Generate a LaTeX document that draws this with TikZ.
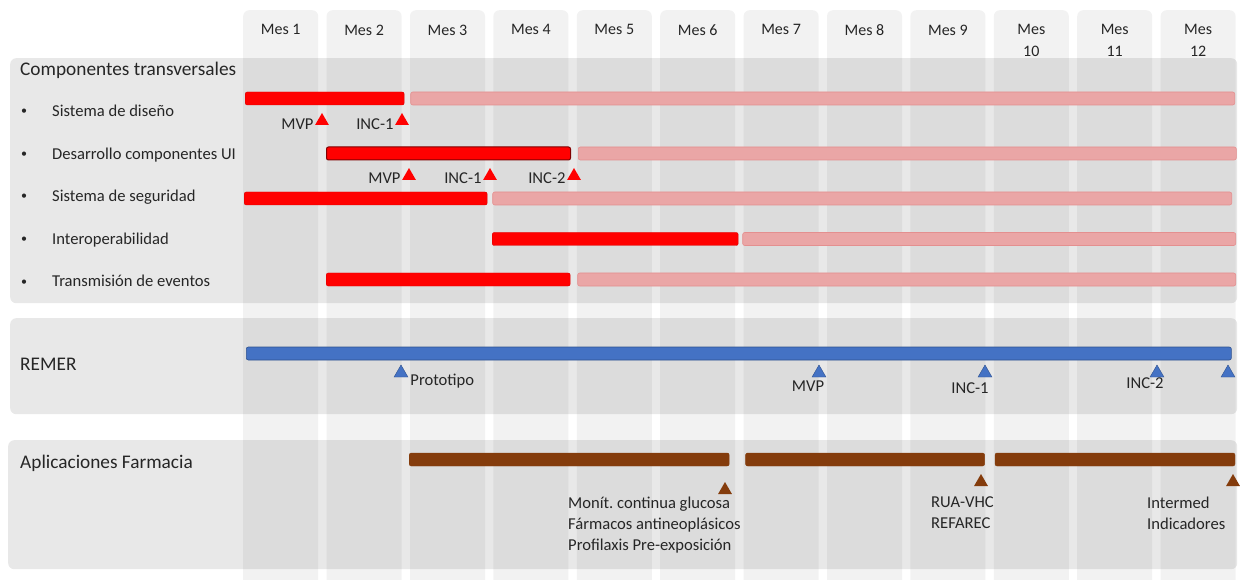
\documentclass[tikz,border=0pt]{standalone}
\usepackage{fontspec}
\setmainfont{Carlito}
\usetikzlibrary{shapes.geometric, positioning, calc}
\definecolor{txtgray}{HTML}{262626}
\definecolor{colgray}{HTML}{F2F2F2}
\definecolor{pinkfill}{HTML}{EAA6A6}
\definecolor{pinkline}{HTML}{E48F8F}
\definecolor{remerblue}{HTML}{4472C4}
\definecolor{remerline}{HTML}{2F528F}
\definecolor{farmbrown}{HTML}{843C0C}
\frenchspacing
\tikzset{
    mescol/.style   = {rectangle, rounded corners=6pt, minimum width=75pt, minimum height=600pt, anchor=north west, fill=colgray},
    mes/.style      = {inner sep=0pt, align=center, font=\fontsize{16}{22}\selectfont, text=txtgray},
    panel/.style    = {rectangle, rounded corners=6pt, anchor=north west, fill=black, fill opacity=0.09},
    head/.style     = {anchor=base west, inner sep=0pt, font=\fontsize{19.3}{22}\selectfont, text=txtgray},
    item/.style     = {anchor=base west, inner sep=0pt, font=\fontsize{16.6}{20}\selectfont, text=txtgray},
    dot/.style      = {anchor=base west, inner sep=0pt, font=\fontsize{12}{14}\selectfont, text=txtgray},
    ms/.style       = {inner sep=0pt, font=\fontsize{16.6}{20}\selectfont, text=txtgray},
    note/.style     = {anchor=north west, inner sep=0pt, align=left, font=\fontsize{16.6}{21}\selectfont, text=txtgray},
    bar/.style      = {rectangle, rounded corners=2pt, minimum height=13pt, inner sep=0pt, anchor=west},
    redbar/.style   = {bar, fill=red, draw=red!85!black, line width=0.4pt},
    darkbar/.style  = {bar, fill=red, draw=red!50!black, line width=1pt},
    pinkbar/.style  = {bar, fill=pinkfill, draw=pinkline, line width=0.6pt},
    bluebar/.style  = {bar, fill=remerblue, draw=remerline, line width=0.6pt},
    brownbar/.style = {bar, fill=farmbrown, draw=farmbrown, line width=0.4pt},
    tri/.style      = {regular polygon, regular polygon sides=3, minimum size=16pt, inner sep=0pt},
    redtri/.style   = {tri, fill=red},
    bluetri/.style  = {tri, fill=remerblue, draw=remerline, line width=0.4pt},
    browntri/.style = {tri, fill=farmbrown},
}

\begin{document}
\begin{tikzpicture}[x=1pt, y=-1pt]
  \useasboundingbox (0,0) rectangle (1240,580);
  \clip (0,0) rectangle (1240,580);
  % month columns
  \node[mescol] (c1) at (243,10) {};
  \node[mescol] (c2) at (326.4,10) {};
  \node[mescol] (c3) at (409.8,10) {};
  \node[mescol] (c4) at (493.2,10) {};
  \node[mescol] (c5) at (576.6,10) {};
  \node[mescol] (c6) at (660,10) {};
  \node[mescol] (c7) at (743.4,10) {};
  \node[mescol] (c8) at (826.8,10) {};
  \node[mescol] (c9) at (910.2,10) {};
  \node[mescol] (c10) at (993.6,10) {};
  \node[mescol] (c11) at (1077,10) {};
  \node[mescol] (c12) at (1160.4,10) {};
  \node[mes, below=14.5pt of c1.north] (mes1) {Mes 1};
  \node[mes, below=14.5pt of c2.north] (mes2) {Mes 2};
  \node[mes, below=14.5pt of c3.north] (mes3) {Mes 3};
  \node[mes, below=14.5pt of c4.north] (mes4) {Mes 4};
  \node[mes, below=14.5pt of c5.north] (mes5) {Mes 5};
  \node[mes, below=14.5pt of c6.north] (mes6) {Mes 6};
  \node[mes, below=14.5pt of c7.north] (mes7) {Mes 7};
  \node[mes, below=14.5pt of c8.north] (mes8) {Mes 8};
  \node[mes, below=14.5pt of c9.north] (mes9) {Mes 9};
  \node[mes, below=14.5pt of c10.north] (mes10) {Mes\\10};
  \node[mes, below=14.5pt of c11.north] (mes11) {Mes\\11};
  \node[mes, below=14.5pt of c12.north] (mes12) {Mes\\12};

  % panels
  \node[panel, minimum width=1227pt, minimum height=245pt] (comp) at (10,58) {};
  \node[panel, minimum width=1227pt, minimum height=96pt] (remer) at (10,318) {};
  \node[panel, minimum width=1229pt, minimum height=129pt] (farm) at (8,440) {};
  \node[head] (hcomp) at (20,76) {Componentes transversales};
  \node[head] (hremer) at (20,370) {REMER};
  \node[head] (hfarm) at (20,468) {Aplicaciones Farmacia};

  % componentes transversales
  \node[dot] (b1) at (21,115) {•};
  \node[item] (i1) at (52,117) {Sistema de diseño};
  \node[dot] (b2) at (21,158) {•};
  \node[item] (i2) at (52,160) {Desarrollo componentes UI};
  \node[dot] (b3) at (21,200) {•};
  \node[item] (i3) at (52,202) {Sistema de seguridad};
  \node[dot] (b4) at (21,243) {•};
  \node[item] (i4) at (52,245) {Interoperabilidad};
  \node[dot] (b5) at (21,285) {•};
  \node[item] (i5) at (52,287) {Transmisión de eventos};

  \node[redbar, minimum width=159pt] (r1a) at (245,98.5) {};
  \node[pinkbar, minimum width=824pt, right=6pt of r1a] (r1b) {};
  \node[darkbar, minimum width=244pt] (r2a) at (326,153.5) {};
  \node[pinkbar, minimum width=658pt, right=7pt of r2a] (r2b) {};
  \node[redbar, minimum width=243pt] (r3a) at (244,198.5) {};
  \node[pinkbar, minimum width=739pt, right=5pt of r3a] (r3b) {};
  \node[redbar, minimum width=246pt] (r4a) at (492,239) {};
  \node[pinkbar, minimum width=493pt, right=4pt of r4a] (r4b) {};
  \node[redbar, minimum width=244pt] (r5a) at (326,279.5) {};
  \node[pinkbar, minimum width=658pt, right=7pt of r5a] (r5b) {};

  \node[redtri] (t11) at (322,121) {};
  \node[ms, anchor=base east] (m11) at ($(t11.corner 2)+(-1,4.5)$) {MVP};
  \node[redtri] (t12) at (402,121) {};
  \node[ms, anchor=base east] (m12) at ($(t12.corner 2)+(-1,4.5)$) {INC-1};
  \node[redtri] (t21) at (409,176) {};
  \node[ms, anchor=base east] (m21) at ($(t21.corner 2)+(-1,3)$) {MVP};
  \node[redtri] (t22) at (490,176) {};
  \node[ms, anchor=base east] (m22) at ($(t22.corner 2)+(-1,3)$) {INC-1};
  \node[redtri] (t23) at (574,176) {};
  \node[ms, anchor=base east] (m23) at ($(t23.corner 2)+(-1,3)$) {INC-2};

  % REMER
  \node[bluebar, minimum width=985pt] (rb) at (246,353.5) {};
  \node[bluetri] (tb1) at (401,373) {};
  \node[ms, anchor=base west] (p1) at ($(tb1.corner 3)+(2,8.5)$) {Prototipo};
  \node[bluetri] (tb2) at (819,373) {};
  \node[ms, anchor=base] (p2) at ($(tb2.south)+(-11,14)$) {MVP};
  \node[bluetri] (tb3) at (985,373) {};
  \node[ms, anchor=base] (p3) at ($(tb3.south)+(-15,16)$) {INC-1};
  \node[bluetri] (tb4) at (1157,373) {};
  \node[ms, anchor=base] (p4) at ($(tb4.south)+(-12,11)$) {INC-2};
  \node[bluetri] (tb5) at (1228,373) {};

  % aplicaciones farmacia
  \node[brownbar, minimum width=320pt] (fb1) at (409,459.5) {};
  \node[brownbar, minimum width=239pt, right=16pt of fb1] (fb2) {};
  \node[brownbar, minimum width=240pt, right=10pt of fb2] (fb3) {};
  \node[browntri] (tf1) at (725,490) {};
  \node[browntri] (tf2) at (981,482) {};
  \node[browntri] (tf3) at (1233,482) {};
  \node[note] (n1) at (568,496.5) {Monít. continua glucosa\\Fármacos antineoplásicos\\Profilaxis Pre-exposición};
  \node[note] (n2) at (931,496.5) {RUA-VHC\\REFAREC};
  \node[note] (n3) at (1147,496.5) {Intermed\\Indicadores};
\end{tikzpicture}
\end{document}
